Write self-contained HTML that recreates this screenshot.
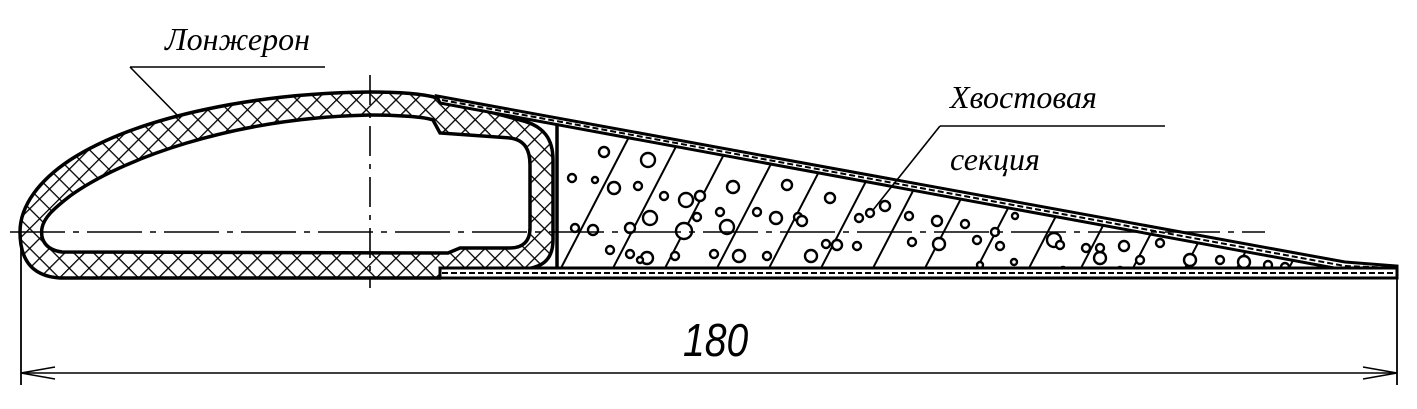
<!DOCTYPE html>
<html><head><meta charset="utf-8"><style>
html,body{margin:0;padding:0;background:#fff}
svg{display:block}
text{font-family:"Liberation Serif",serif;font-style:italic;fill:#000}
</style></head><body>
<svg width="1417" height="409" viewBox="0 0 1417 409" xmlns="http://www.w3.org/2000/svg">
<defs>
<pattern id="xh" width="14" height="14" patternUnits="userSpaceOnUse" patternTransform="rotate(45)">
<rect width="14" height="14" fill="#fff"/>
<line x1="0" y1="0" x2="0" y2="14" stroke="#000" stroke-width="2.6"/>
<line x1="0" y1="0" x2="14" y2="0" stroke="#000" stroke-width="2.6"/>
</pattern>
<clipPath id="foam"><polygon points="557,126 1346,268 557,268"/></clipPath>
</defs>
<!-- spar outer -->
<path d="M60,278 C28,276 20,255 20,232 C20,205 40,180 70,160 C140,115 260,93 370,92 C410,92 430,95 445,100 L520,120 C545,126 553,140 553,160 L553,240 C553,262 540,268 520,270 L445,270 L440,278 Z" fill="url(#xh)" stroke="#000" stroke-width="3.5"/>
<!-- spar inner -->
<path d="M62,252 C46,250 40,240 42,228 C44,218 52,210 70,196 C120,160 230,118 370,115 C400,115 425,117 433,120 L440,133 L510,138 C525,140 530,150 530,165 L530,228 C530,242 522,248 510,248 L460,248 L448,253 Z" fill="#fff" stroke="#000" stroke-width="3.5"/>
<!-- foam -->
<g clip-path="url(#foam)">
<rect x="557" y="100" width="800" height="180" fill="#fff"/>
<g id="hl" stroke="#000" stroke-width="2"></g>
<g id="cc" stroke="#000" stroke-width="2.4" fill="#fff"></g>
</g>
<line x1="557" y1="125" x2="557" y2="270" stroke="#000" stroke-width="3.5"/>
<!-- top skin -->
<path d="M437,96 L1345,262 L1397,266 L1397,270 L1345,270 L440,103 Z" fill="#fff" stroke="#000" stroke-width="3"/>
<path d="M442,100 L1345,266 L1397,268" fill="none" stroke="#000" stroke-width="2" stroke-dasharray="6,3"/>
<!-- bottom skin -->
<rect x="440" y="268" width="957" height="10" fill="#fff" stroke="#000" stroke-width="3"/>
<line x1="442" y1="273" x2="1397" y2="273" stroke="#000" stroke-width="2" stroke-dasharray="6,3"/>
<!-- centerlines -->
<line x1="10" y1="232" x2="1265" y2="232" stroke="#000" stroke-width="1.6" stroke-dasharray="55,8,6,8"/>
<line x1="370" y1="75" x2="370" y2="288" stroke="#000" stroke-width="1.6" stroke-dasharray="30,8,5,8"/>
<!-- dimension -->
<line x1="21" y1="235" x2="21" y2="385" stroke="#000" stroke-width="1.8"/>
<line x1="1397" y1="278" x2="1397" y2="385" stroke="#000" stroke-width="1.8"/>
<line x1="21" y1="373" x2="1397" y2="373" stroke="#000" stroke-width="1.6"/>
<path d="M21,373 L55,367 M21,373 L55,379" stroke="#000" stroke-width="1.6" fill="none"/>
<path d="M1397,373 L1363,367 M1397,373 L1363,379" stroke="#000" stroke-width="1.6" fill="none"/>
<text x="683" y="356" font-size="46" style="font-family:'Liberation Sans Narrow','Liberation Sans',sans-serif" transform="translate(683 356) scale(0.85 1) translate(-683 -356)">180</text>
<!-- labels -->
<text x="165" y="50" font-size="32">Лонжерон</text>
<line x1="130" y1="67" x2="325" y2="67" stroke="#000" stroke-width="1.6"/>
<line x1="130" y1="67" x2="180" y2="118" stroke="#000" stroke-width="1.6"/>
<text x="950" y="108" font-size="32">Хвостовая</text>
<line x1="940" y1="126" x2="1165" y2="126" stroke="#000" stroke-width="1.6"/>
<line x1="940" y1="126" x2="873" y2="210" stroke="#000" stroke-width="1.6"/>
<text x="950" y="170" font-size="32">секция</text>
</svg>
<script>
(function(){
var ns="http://www.w3.org/2000/svg",hl=document.getElementById('hl'),cc=document.getElementById('cc');
for(var x=560;x<1420;x+=52){var l=document.createElementNS(ns,'line');l.setAttribute('x1',x);l.setAttribute('y1',270);l.setAttribute('x2',x+70);l.setAttribute('y2',135);hl.appendChild(l);}
var c=[[604,152,5],[648,160,7],[572,178,4],[595,180,3],[614,188,6],[638,186,4],[664,196,4],[686,200,7],[700,196,5],[733,187,6],[697,217,4],[720,212,4],[757,212,4],[787,185,5],[830,198,5],[593,230,5],[630,228,5],[650,218,7],[684,231,8],[727,227,7],[776,218,6],[798,217,4],[802,221,5],[837,245,5],[857,246,4],[610,250,4],[630,254,4],[647,258,6],[675,256,4],[714,254,4],[739,256,6],[767,256,4],[811,256,6],[826,244,4],[859,218,4],[870,213,4],[885,206,5],[909,216,4],[912,242,4],[939,244,6],[937,221,5],[965,224,4],[977,240,4],[995,232,4],[1000,246,4],[980,265,3],[1014,262,3],[1054,240,7],[1060,245,4],[1086,248,4],[1100,258,6],[1124,246,5],[1140,260,4],[1160,243,4],[1190,260,6],[1220,260,4],[1244,262,6],[1268,265,4],[1285,267,4],[1015,216,3],[1063,270,3],[1120,270,3],[1100,248,4],[575,228,4],[640,260,3]];
c.forEach(function(a){var e=document.createElementNS(ns,'circle');e.setAttribute('cx',a[0]);e.setAttribute('cy',a[1]);e.setAttribute('r',a[2]);cc.appendChild(e);});
})();
</script>
</body></html>
